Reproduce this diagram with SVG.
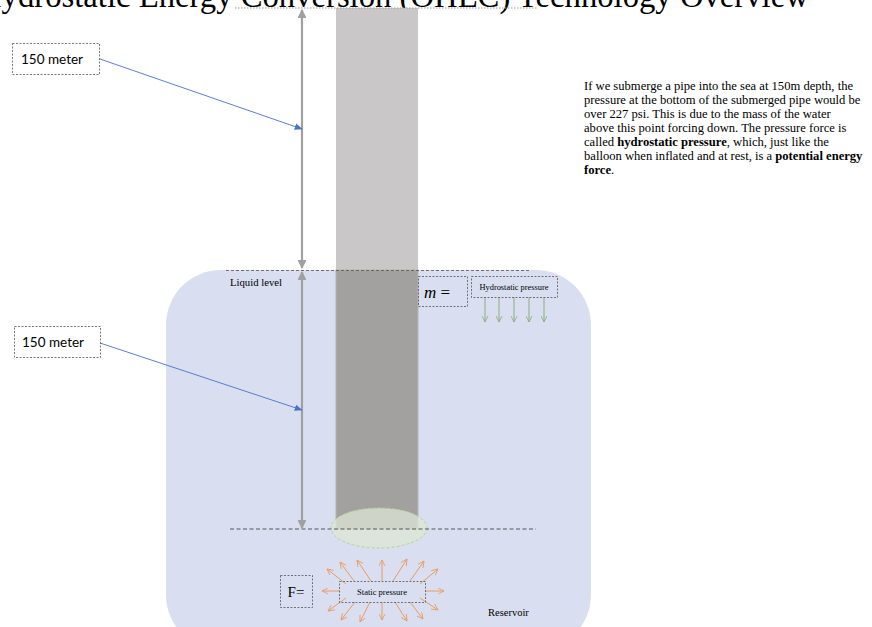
<svg xmlns="http://www.w3.org/2000/svg" width="872" height="627" viewBox="0 0 872 627">
<defs>
<style>
.serif{font-family:"Liberation Serif","Times New Roman",serif;fill:#000}
.sans{font-family:Lato,"Liberation Sans",sans-serif;fill:#000}
.dbox{fill:#fff;stroke:#555;stroke-width:0.8;stroke-dasharray:2,1.5}
.dboxt{fill:none;stroke:#555;stroke-width:0.8;stroke-dasharray:2,1.5}
.gray{stroke:#a0a0a0;stroke-width:2.2;fill:none}
.blue{stroke:#4a72c8;stroke-width:0.9;fill:none}
.green{stroke:#8fac7a;stroke-width:1;fill:none}
.orange{stroke:#ee9a5c;stroke-width:1;fill:none}
</style>
<marker id="mg" viewBox="0 0 10 10" refX="9" refY="5" markerWidth="4" markerHeight="4" orient="auto-start-reverse" markerUnits="strokeWidth"><path d="M0,0 L10,5 L0,10 z" fill="#a0a0a0"/></marker>
<marker id="mb" viewBox="0 0 10 10" refX="9" refY="5" markerWidth="9" markerHeight="9" orient="auto" markerUnits="strokeWidth"><path d="M0,1 L10,5 L0,9 z" fill="#4a72c8"/></marker>
<marker id="mgr" viewBox="0 0 10 10" refX="9" refY="5" markerWidth="7" markerHeight="7" orient="auto" markerUnits="strokeWidth"><path d="M0,0.5 L9,5 L0,9.5" fill="none" stroke="#8fac7a" stroke-width="1.2"/></marker>
<marker id="mo" viewBox="0 0 10 10" refX="9" refY="5" markerWidth="7" markerHeight="7" orient="auto" markerUnits="strokeWidth"><path d="M0,0.5 L9,5 L0,9.5" fill="none" stroke="#ee9a5c" stroke-width="1.2"/></marker>
</defs>
<rect width="872" height="627" fill="#fff"/>
<g id="title"><text class="serif" x="-22" y="6.5" font-size="32.7">Hydrostatic Energy Conversion (OHEC) Technology Overview</text></g>
<g id="reservoir"><rect x="166" y="270" width="425" height="380" rx="55" ry="55" fill="#d9dff0"/></g>
<g id="pipe">
<rect x="336" y="8" width="82" height="262" fill="#c9c7c7"/>
<rect x="336" y="270" width="82" height="259" fill="#a3a19f" stroke="#b5b3b1" stroke-width="1"/>
</g>
<g id="ellipse"><ellipse cx="379" cy="528" rx="48" ry="20" fill="#dde6d6" fill-opacity="0.75" stroke="#b5d68f" stroke-width="1" stroke-dasharray="3,2"/></g>
<g id="levels">
<line x1="235" y1="8" x2="538" y2="8" stroke="#9a9a9a" stroke-width="1" stroke-dasharray="1.5,1.5"/>
<line x1="226" y1="270.5" x2="530" y2="270.5" stroke="#555" stroke-width="0.8" stroke-dasharray="3,2"/>
<line x1="230" y1="529" x2="536" y2="529" stroke="#333" stroke-width="0.8" stroke-dasharray="4,2.5"/>
</g>
<g id="connectors">
<line class="gray" x1="302" y1="10" x2="302" y2="268" marker-start="url(#mg)" marker-end="url(#mg)"/>
<line class="gray" x1="302" y1="272" x2="302" y2="528" marker-start="url(#mg)" marker-end="url(#mg)"/>
<line class="blue" x1="100" y1="59" x2="302" y2="129" marker-end="url(#mb)"/>
<line class="blue" x1="100" y1="343" x2="302" y2="410" marker-end="url(#mb)"/>
<line class="green" x1="485" y1="297" x2="485" y2="322" marker-end="url(#mgr)"/>
<line class="green" x1="499" y1="297" x2="499" y2="322" marker-end="url(#mgr)"/>
<line class="green" x1="514" y1="297" x2="514" y2="322" marker-end="url(#mgr)"/>
<line class="green" x1="529" y1="297" x2="529" y2="322" marker-end="url(#mgr)"/>
<line class="green" x1="544" y1="297" x2="544" y2="322" marker-end="url(#mgr)"/>
<line class="orange" x1="346" y1="584" x2="327" y2="569" marker-end="url(#mo)"/>
<line class="orange" x1="354" y1="581" x2="340" y2="562" marker-end="url(#mo)"/>
<line class="orange" x1="371" y1="581" x2="357" y2="560" marker-end="url(#mo)"/>
<line class="orange" x1="382" y1="581" x2="382" y2="560" marker-end="url(#mo)"/>
<line class="orange" x1="393" y1="581" x2="407" y2="559" marker-end="url(#mo)"/>
<line class="orange" x1="410" y1="581" x2="424" y2="561" marker-end="url(#mo)"/>
<line class="orange" x1="420" y1="584" x2="438" y2="569" marker-end="url(#mo)"/>
<line class="orange" x1="340" y1="591" x2="322" y2="591" marker-end="url(#mo)"/>
<line class="orange" x1="425" y1="591" x2="444" y2="591" marker-end="url(#mo)"/>
<line class="orange" x1="346" y1="598" x2="328" y2="611" marker-end="url(#mo)"/>
<line class="orange" x1="355" y1="602" x2="341" y2="620" marker-end="url(#mo)"/>
<line class="orange" x1="370" y1="602" x2="360" y2="622" marker-end="url(#mo)"/>
<line class="orange" x1="382" y1="602" x2="382" y2="620" marker-end="url(#mo)"/>
<line class="orange" x1="395" y1="602" x2="407" y2="621" marker-end="url(#mo)"/>
<line class="orange" x1="410" y1="602" x2="423" y2="619" marker-end="url(#mo)"/>
<line class="orange" x1="420" y1="598" x2="438" y2="610" marker-end="url(#mo)"/>
</g>
<g id="label-150-top"><rect class="dbox" x="12.5" y="43.5" width="87" height="31"/><text class="sans" x="21" y="64" font-size="13.5">150 meter</text></g>
<g id="label-150-bottom"><rect class="dbox" x="14.5" y="326.5" width="86" height="31"/><text class="sans" x="22" y="347" font-size="13.5">150 meter</text></g>
<g id="liquid-level"><text class="serif" x="230" y="286" font-size="10.7">Liquid level</text></g>
<g id="mass"><rect class="dboxt" x="418.5" y="276.5" width="49" height="30"/><text class="serif" x="424" y="298" font-size="17"><tspan font-style="italic">m</tspan> =</text></g>
<g id="hydrostatic"><rect class="dboxt" x="471.5" y="276.5" width="86" height="21"/><text class="serif" x="514" y="290" font-size="8.4" text-anchor="middle">Hydrostatic pressure</text></g>
<g id="force"><rect class="dboxt" x="280.5" y="575.5" width="32" height="32"/><text class="serif" x="296" y="597" font-size="15" text-anchor="middle">F=</text></g>
<g id="static"><rect class="dboxt" x="339.5" y="581.5" width="86" height="21"/><text class="serif" x="382" y="594.5" font-size="8.5" text-anchor="middle">Static pressure</text></g>
<g id="reservoir-label"><text class="serif" x="488" y="616" font-size="10.5">Reservoir</text></g>
<g id="description"><text class="serif" font-size="12.6">
<tspan x="584" y="89.5">If we submerge a pipe into the sea at 150m depth, the</tspan>
<tspan x="584" y="103.5">pressure at the bottom of the submerged pipe would be</tspan>
<tspan x="584" y="117.5">over 227 psi. This is due to the mass of the water</tspan>
<tspan x="584" y="131.5">above this point forcing down. The pressure force is</tspan>
<tspan x="584" y="145.5">called <tspan font-weight="bold">hydrostatic pressure</tspan>, which, just like the</tspan>
<tspan x="584" y="159.5">balloon when inflated and at rest, is a <tspan font-weight="bold">potential energy</tspan></tspan>
<tspan x="584" y="173.5"><tspan font-weight="bold">force</tspan>.</tspan>
</text></g>
</svg>
